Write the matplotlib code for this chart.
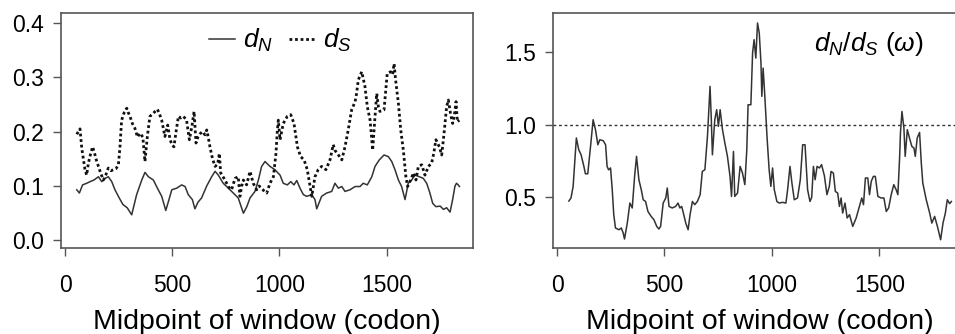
import matplotlib
matplotlib.use("Agg")
import matplotlib.pyplot as plt
from matplotlib.lines import Line2D

matplotlib.rcParams.update({
    'font.family': 'Liberation Sans',
    'mathtext.fontset': 'custom',
    'mathtext.rm': 'Liberation Sans',
    'mathtext.it': 'Liberation Sans:italic',
})

# d_N along the sequence (sliding window midpoints)
codon_dn = [55, 67, 82, 101, 117, 135, 156, 171, 187, 202, 218, 233, 253, 270, 290, 311,
            334, 358, 373, 389, 412, 431, 451, 470, 485, 498, 521, 544, 560, 575, 594, 606,
            620, 637, 661, 684, 700, 715, 738, 762, 785, 808, 832, 848, 863, 886, 902, 917,
            933, 956, 979, 1003, 1018, 1037, 1053, 1068, 1081, 1096, 1112, 1127, 1151, 1166,
            1174, 1197, 1220, 1244, 1259, 1275, 1291, 1306, 1329, 1353, 1376, 1391, 1410,
            1431, 1446, 1466, 1488, 1508, 1524, 1539, 1555, 1570, 1586, 1601, 1617, 1632,
            1653, 1671, 1687, 1702, 1715, 1730, 1750, 1765, 1780, 1796, 1808, 1819, 1826,
            1834, 1840]
dn = [0.093, 0.087, 0.102, 0.105, 0.108, 0.111, 0.117, 0.108, 0.114, 0.117, 0.108, 0.093,
      0.078, 0.066, 0.060, 0.047, 0.084, 0.111, 0.125, 0.117, 0.111, 0.096, 0.081, 0.055,
      0.075, 0.093, 0.096, 0.102, 0.099, 0.084, 0.075, 0.058, 0.070, 0.078, 0.100, 0.117,
      0.127, 0.120, 0.105, 0.096, 0.087, 0.078, 0.050, 0.062, 0.078, 0.090, 0.111, 0.136,
      0.145, 0.136, 0.130, 0.120, 0.105, 0.102, 0.108, 0.102, 0.110, 0.096, 0.084, 0.081,
      0.084, 0.075, 0.058, 0.081, 0.087, 0.090, 0.105, 0.096, 0.099, 0.090, 0.093, 0.099,
      0.099, 0.105, 0.102, 0.117, 0.136, 0.148, 0.157, 0.154, 0.145, 0.130, 0.111, 0.099,
      0.075, 0.105, 0.111, 0.120, 0.117, 0.114, 0.105, 0.087, 0.068, 0.062, 0.063, 0.057,
      0.060, 0.052, 0.075, 0.100, 0.105, 0.102, 0.099]

# d_S along the sequence
codon_ds = [55, 62, 70, 78, 93, 101, 109, 120, 129, 138, 148, 157, 166, 179, 190, 202, 215,
            225, 238, 249, 256, 264, 276, 288, 295, 303, 314, 326, 338, 350, 363, 373, 384,
            396, 408, 420, 431, 441, 451, 466, 479, 490, 500, 508, 518, 529, 540, 552, 567,
            580, 592, 602, 611, 620, 630, 641, 653, 661, 668, 676, 688, 700, 712, 720, 726,
            740, 754, 765, 777, 793, 808, 816, 824, 832, 847, 863, 878, 894, 905, 917, 930,
            941, 956, 972, 984, 990, 995, 1003, 1018, 1037, 1053, 1068, 1084, 1099, 1115,
            1130, 1143, 1151, 1166, 1181, 1197, 1217, 1236, 1251, 1260, 1270, 1291, 1306,
            1321, 1337, 1353, 1360, 1368, 1384, 1399, 1410, 1423, 1435, 1446, 1454, 1462,
            1469, 1488, 1503, 1519, 1528, 1535, 1542, 1555, 1566, 1578, 1590, 1598, 1612,
            1625, 1637, 1648, 1664, 1679, 1695, 1710, 1720, 1730, 1746, 1757, 1768, 1780,
            1788, 1799, 1808, 1816, 1824, 1830, 1839]
ds = [0.195, 0.200, 0.205, 0.170, 0.130, 0.120, 0.142, 0.160, 0.172, 0.160, 0.145, 0.135,
      0.124, 0.111, 0.120, 0.133, 0.128, 0.130, 0.132, 0.139, 0.170, 0.221, 0.235, 0.243,
      0.235, 0.228, 0.215, 0.206, 0.190, 0.197, 0.190, 0.145, 0.191, 0.228, 0.232, 0.237,
      0.241, 0.232, 0.221, 0.191, 0.212, 0.185, 0.175, 0.172, 0.200, 0.228, 0.225, 0.228,
      0.221, 0.185, 0.210, 0.237, 0.179, 0.190, 0.196, 0.200, 0.194, 0.203, 0.190, 0.172,
      0.150, 0.136, 0.140, 0.160, 0.124, 0.115, 0.105, 0.097, 0.093, 0.114, 0.117, 0.081,
      0.100, 0.111, 0.102, 0.127, 0.105, 0.093, 0.100, 0.096, 0.090, 0.087, 0.105, 0.117,
      0.160, 0.200, 0.221, 0.185, 0.215, 0.228, 0.231, 0.215, 0.172, 0.154, 0.148, 0.130,
      0.099, 0.081, 0.117, 0.130, 0.136, 0.130, 0.148, 0.176, 0.165, 0.160, 0.148, 0.172,
      0.203, 0.240, 0.255, 0.270, 0.295, 0.310, 0.283, 0.246, 0.221, 0.166, 0.228, 0.270,
      0.245, 0.237, 0.240, 0.307, 0.310, 0.305, 0.325, 0.295, 0.252, 0.203, 0.166, 0.117,
      0.099, 0.111, 0.124, 0.111, 0.136, 0.139, 0.120, 0.136, 0.142, 0.160, 0.185, 0.172,
      0.157, 0.197, 0.246, 0.258, 0.231, 0.215, 0.230, 0.255, 0.218, 0.221]

# omega = dN/dS
codon_w = [55, 65, 75, 90, 101, 112, 125, 132, 143, 156, 168, 179, 190, 199, 215, 226, 233,
           240, 249, 257, 264, 272, 288, 299, 308, 314, 327, 339, 350, 361, 370, 381, 392,
           401, 412, 423, 438, 451, 464, 474, 482, 494, 506, 513, 521, 536, 552, 563, 572,
           580, 588, 599, 610, 619, 630, 641, 653, 666, 676, 688, 700, 712, 718, 723, 734,
           743, 751, 759, 770, 781, 793, 805, 812, 821, 827, 840, 852, 863, 874, 883, 889,
           902, 910, 917, 925, 933, 941, 949, 953, 959, 967, 977, 987, 995, 1003, 1011,
           1023, 1034, 1049, 1065, 1073, 1084, 1093, 1104, 1119, 1132, 1143, 1154, 1166,
           1177, 1185, 1193, 1201, 1210, 1221, 1231, 1244, 1256, 1267, 1275, 1286, 1295,
           1306, 1314, 1322, 1329, 1340, 1350, 1361, 1376, 1392, 1407, 1418, 1426, 1435,
           1446, 1454, 1462, 1472, 1481, 1493, 1508, 1521, 1532, 1543, 1555, 1567, 1578,
           1586, 1594, 1598, 1605, 1614, 1620, 1630, 1640, 1651, 1661, 1667, 1676, 1687,
           1695, 1702, 1718, 1734, 1744, 1757, 1770, 1785, 1796, 1807, 1816, 1827, 1835]
omega = [0.475, 0.496, 0.576, 0.910, 0.829, 0.794, 0.714, 0.663, 0.663, 0.852, 1.036, 0.967,
         0.863, 0.898, 0.891, 0.863, 0.714, 0.690, 0.703, 0.553, 0.381, 0.289, 0.277, 0.289,
         0.254, 0.213, 0.323, 0.461, 0.427, 0.645, 0.783, 0.622, 0.553, 0.484, 0.472, 0.403,
         0.369, 0.346, 0.300, 0.282, 0.300, 0.461, 0.496, 0.565, 0.438, 0.427, 0.438, 0.461,
         0.427, 0.438, 0.392, 0.323, 0.277, 0.381, 0.472, 0.450, 0.472, 0.519, 0.679, 0.691,
         0.921, 1.266, 1.036, 0.794, 1.036, 1.105, 0.990, 1.105, 0.967, 0.875, 0.783, 0.645,
         0.507, 0.817, 0.507, 0.530, 0.714, 0.668, 0.588, 0.829, 1.139, 1.139, 1.496, 1.588,
         1.461, 1.703, 1.634, 1.427, 1.197, 1.392, 1.197, 0.921, 0.691, 0.576, 0.703, 0.553,
         0.472, 0.461, 0.466, 0.461, 0.553, 0.714, 0.599, 0.484, 0.496, 0.622, 0.863, 0.863,
         0.553, 0.472, 0.500, 0.714, 0.622, 0.714, 0.703, 0.726, 0.650, 0.519, 0.576, 0.679,
         0.668, 0.541, 0.530, 0.438, 0.496, 0.392, 0.461, 0.358, 0.381, 0.300, 0.358, 0.438,
         0.496, 0.450, 0.634, 0.634, 0.519, 0.610, 0.645, 0.645, 0.507, 0.496, 0.496, 0.403,
         0.427, 0.519, 0.588, 0.553, 0.519, 0.772, 0.944, 1.093, 0.979, 0.783, 0.967, 0.910,
         0.852, 0.840, 0.783, 0.910, 0.948, 0.737, 0.599, 0.484, 0.392, 0.323, 0.369, 0.300,
         0.208, 0.323, 0.392, 0.484, 0.457, 0.472]

x_ticks = [0, 500, 1000, 1500]
dn_ticks = [0.0, 0.1, 0.2, 0.3, 0.4]
w_ticks = [0.5, 1.0, 1.5]
neutral = 1.0

W, H = 955, 334
fig = plt.figure(figsize=(W / 100, H / 100), dpi=100)
ax1 = fig.add_axes([61 / W, (H - 248) / H, 412 / W, 235 / H])
ax2 = fig.add_axes([553 / W, (H - 248) / H, 413 / W, 235 / H])

line_col = '#333333'
frame_col = '#555555'

# left: dN and dS
ax1.plot(codon_dn, dn, color=line_col, lw=1.1)
ax1.plot(codon_ds, ds, color='#111111', lw=2.0, linestyle=(0, (1, 1)))
ax1.set_ylim(-0.014, 0.418)
ax1.set_yticks(dn_ticks)
ax1.set_yticklabels([f"{v:.1f}" for v in dn_ticks])

handles = [Line2D([], [], color=line_col, lw=1.1),
           Line2D([], [], color='#111111', lw=2.0, linestyle=(0, (1, 1)))]
ax1.legend(handles, ['$d_N$', '$d_S$'], loc='center', bbox_to_anchor=(0.533, 0.882),
           ncol=2, frameon=False, fontsize=19, handlelength=1.0, handletextpad=0.3,
           columnspacing=0.6, borderpad=0)

# right: omega
ax2.plot(codon_w, omega, color=line_col, lw=1.1)
ax2.axhline(neutral, color='#333333', lw=1.0, linestyle=(0, (2, 2)))
ax2.set_ylim(0.151, 1.772)
ax2.set_yticks(w_ticks)
ax2.set_yticklabels([f"{v:.1f}" for v in w_ticks])
ax2.text(0.898, 0.868, r'$d_N/d_S$ $(\omega)$', transform=ax2.transAxes,
         ha='right', va='center', fontsize=19)

for ax in (ax1, ax2):
    ax.set_xlim(-18.7, 1903)
    ax.set_xticks(x_ticks)
    ax.set_xticklabels([str(v) for v in x_ticks])
    ax.set_xlabel('Midpoint of window (codon)', fontsize=20.5, labelpad=9)
    ax.tick_params(axis='both', direction='out', length=5.5, width=1.0,
                   color=frame_col, labelsize=16.5)
    ax.tick_params(axis='x', pad=13)
    ax.tick_params(axis='y', pad=7)
    for s in ax.spines.values():
        s.set_color(frame_col)
        s.set_linewidth(1.2)

fig.savefig('out.png', dpi=100)
